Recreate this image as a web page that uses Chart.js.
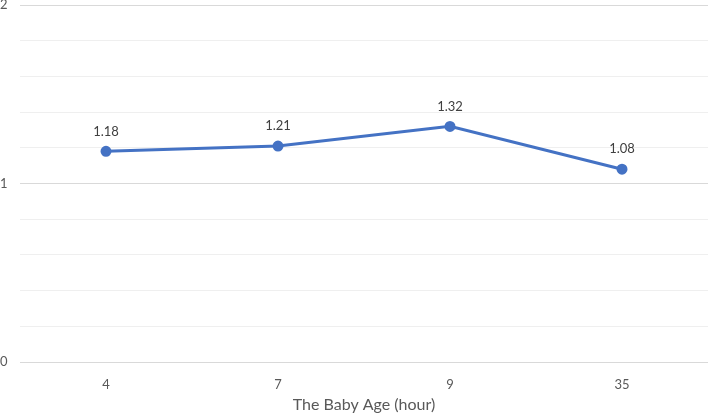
<!DOCTYPE html>
<html>
<head>
<meta charset="utf-8">
<script src="https://cdn.jsdelivr.net/npm/chart.js@4/dist/chart.umd.min.js"></script>
<style>
html,body{margin:0;padding:0;background:#fff;overflow:hidden;}
#wrap{width:708px;height:415px;overflow:hidden;}
#c{display:block;}
</style>
</head>
<body>
<div id="wrap"><canvas id="c" width="708" height="415"></canvas></div>
<script>
const categories = ['4', '7', '9', '35'];
const values = [1.18, 1.21, 1.32, 1.08];
const valueLabels = ['1.18', '1.21', '1.32', '1.08'];
const yMajorTicks = [0, 1, 2];
const xTitle = 'The Baby Age (hour)';

const FONT = 'Lato, "Open Sans", sans-serif';

const dataLabelPlugin = {
  id: 'dataLabels',
  afterDatasetsDraw(chart) {
    const ctx = chart.ctx;
    const meta = chart.getDatasetMeta(0);
    ctx.save();
    ctx.font = '13px ' + FONT;
    ctx.fillStyle = '#404040';
    ctx.textAlign = 'center';
    ctx.textBaseline = 'middle';
    meta.data.forEach((pt, i) => {
      ctx.fillText(valueLabels[i], pt.x, pt.y - 20);
    });
    ctx.restore();
  }
};

new Chart(document.getElementById('c'), {
  type: 'line',
  data: {
    labels: categories,
    datasets: [{
      data: values,
      borderColor: '#4472C4',
      backgroundColor: '#4472C4',
      borderWidth: 3,
      pointRadius: 4,
      pointHoverRadius: 4,
      pointBackgroundColor: '#4472C4',
      pointBorderColor: '#4472C4',
      tension: 0
    }]
  },
  options: {
    responsive: false,
    animation: false,
    layout: { autoPadding: false, padding: { top: 5, right: 0, left: 0, bottom: 0 } },
    plugins: { legend: { display: false }, tooltip: { enabled: false } },
    scales: {
      x: {
        offset: true,
        grid: { display: false },
        border: { display: false },
        ticks: { color: '#595959', font: { family: FONT, size: 13 }, padding: 7 },
        title: { display: true, text: xTitle, color: '#595959', font: { family: FONT, size: 16 }, padding: { top: 3, bottom: 1 } },
        afterFit(scale) { scale.height = 53; scale.paddingRight = 0; scale.paddingLeft = 0; }
      },
      y: {
        min: 0,
        max: 2,
        border: { display: false },
        grid: {
          drawTicks: false,
          color(ctx) {
            const v = ctx.tick ? ctx.tick.value : 0;
            return yMajorTicks.some(m => Math.abs(m - v) < 1e-6) ? '#d9d9d9' : '#efefef';
          },
          lineWidth: 1
        },
        ticks: {
          stepSize: 0.2,
          color: '#595959',
          font: { family: FONT, size: 13 },
          crossAlign: 'far',
          padding: 0,
          callback(v) {
            const m = yMajorTicks.find(t => Math.abs(t - v) < 1e-6);
            return m === undefined ? '' : String(m);
          }
        },
        afterFit(scale) { scale.width = 20; scale.paddingTop = 0; scale.paddingBottom = 0; }
      }
    }
  },
  plugins: [dataLabelPlugin]
});
</script>
</body>
</html>
